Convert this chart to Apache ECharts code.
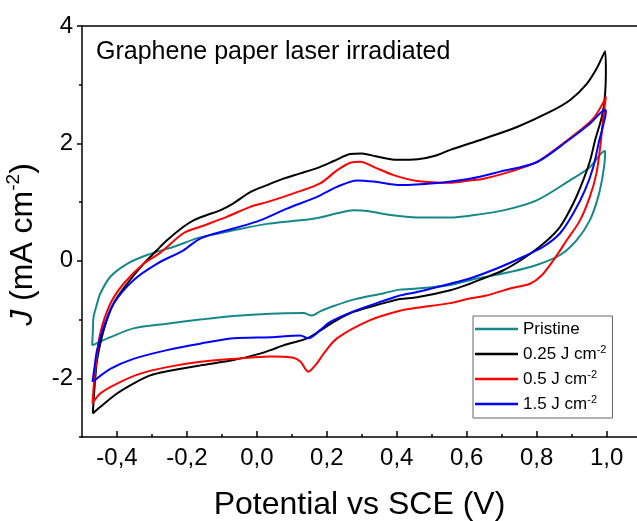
<!DOCTYPE html>
<html>
<head>
<meta charset="utf-8">
<script src="https://cdn.jsdelivr.net/npm/echarts@6/dist/echarts.min.js"></script>
<style>html,body{margin:0;padding:0;background:#fff}#c{width:637px;height:521px}</style>
</head>
<body>
<div id="c"></div>
<script>
// ---- data (potential V vs SCE, current density mA cm-2) ----
const seriesNames = ['Pristine', '0.25 J cm-2', '0.5 J cm-2', '1.5 J cm-2'];
const potentialTicks = [-0.4, -0.2, 0.0, 0.2, 0.4, 0.6, 0.8, 1.0];
const potentialMinorTicks = [-0.3, -0.1, 0.1, 0.3, 0.5, 0.7, 0.9];
const currentTicks = [-2, 0, 2, 4];
const currentMinorTicks = [-3, -1, 1, 3];

const pristine = [
  [-0.471,-1.44],[-0.469,-1.20],[-0.467,-0.96],[-0.458,-0.75],[-0.448,-0.56],[-0.419,-0.27],[-0.371,-0.05],
  [-0.314,0.10],[-0.238,0.24],[-0.162,0.40],[-0.067,0.52],[0.029,0.63],[0.124,0.69],[0.181,0.74],[0.229,0.81],
  [0.277,0.86],[0.315,0.85],[0.382,0.78],[0.458,0.74],[0.553,0.74],[0.609,0.77],[0.705,0.86],[0.80,1.03],
  [0.895,1.37],[0.953,1.60],[0.995,1.87],
  [0.996,1.85],[0.99,1.49],[0.976,1.09],[0.952,0.69],[0.914,0.35],[0.867,0.10],[0.80,-0.07],[0.724,-0.19],
  [0.657,-0.27],[0.609,-0.33],[0.553,-0.41],[0.458,-0.47],[0.409,-0.49],[0.363,-0.55],[0.276,-0.66],[0.21,-0.79],
  [0.181,-0.86],[0.157,-0.93],[0.133,-0.89],[0.039,-0.90],[-0.067,-0.94],[-0.162,-1.00],[-0.257,-1.07],
  [-0.353,-1.15],[-0.419,-1.30],[-0.457,-1.40],[-0.471,-1.44]
];
const fluence025 = [
  [-0.469,-2.60],[-0.466,-2.30],[-0.462,-2.00],[-0.457,-1.69],[-0.438,-1.18],[-0.41,-0.73],[-0.371,-0.39],
  [-0.324,-0.05],[-0.286,0.18],[-0.257,0.35],[-0.21,0.58],[-0.181,0.69],[-0.143,0.78],[-0.105,0.86],[-0.067,0.98],
  [-0.019,1.17],[0.029,1.29],[0.076,1.40],[0.124,1.49],[0.172,1.58],[0.22,1.70],[0.267,1.82],[0.30,1.83],
  [0.34,1.78],[0.40,1.72],[0.46,1.73],[0.51,1.79],[0.553,1.89],[0.649,2.08],[0.744,2.28],[0.839,2.54],
  [0.896,2.74],[0.944,3.02],[0.972,3.28],[0.996,3.57],
  [0.998,3.20],[0.99,2.55],[0.967,2.05],[0.953,1.71],[0.933,1.37],[0.905,0.98],[0.867,0.58],[0.819,0.29],
  [0.762,0.04],[0.705,-0.16],[0.647,-0.30],[0.609,-0.39],[0.553,-0.50],[0.458,-0.62],[0.409,-0.65],[0.363,-0.72],
  [0.276,-0.87],[0.22,-1.04],[0.181,-1.19],[0.143,-1.32],[0.076,-1.44],[0.039,-1.52],[0.009,-1.58],[-0.067,-1.69],
  [-0.162,-1.78],[-0.257,-1.88],[-0.305,-1.95],[-0.353,-2.09],[-0.40,-2.26],[-0.448,-2.49],[-0.469,-2.60]
];
const fluence05 = [
  [-0.47,-2.43],[-0.466,-2.10],[-0.461,-1.81],[-0.448,-1.24],[-0.419,-0.73],[-0.381,-0.39],[-0.324,-0.05],
  [-0.276,0.14],[-0.21,0.47],[-0.162,0.58],[-0.086,0.75],[-0.019,0.92],[0.029,1.00],[0.105,1.15],[0.181,1.32],
  [0.229,1.54],[0.267,1.67],[0.296,1.69],[0.334,1.60],[0.391,1.46],[0.458,1.36],[0.553,1.33],[0.609,1.37],
  [0.649,1.40],[0.725,1.52],[0.80,1.68],[0.858,1.92],[0.915,2.18],[0.963,2.43],[0.997,2.77],
  [0.998,2.80],[0.99,2.40],[0.982,1.95],[0.971,1.49],[0.952,1.09],[0.924,0.69],[0.886,0.35],[0.848,0.01],
  [0.814,-0.25],[0.781,-0.39],[0.724,-0.47],[0.657,-0.59],[0.609,-0.64],[0.553,-0.72],[0.458,-0.80],[0.409,-0.85],
  [0.324,-1.01],[0.229,-1.32],[0.191,-1.58],[0.171,-1.75],[0.147,-1.89],[0.125,-1.72],[0.105,-1.65],[0.039,-1.63],
  [-0.067,-1.67],[-0.162,-1.72],[-0.257,-1.81],[-0.333,-1.92],[-0.40,-2.09],[-0.448,-2.26],[-0.47,-2.43]
];
const fluence15 = [
  [-0.47,-2.06],[-0.464,-1.80],[-0.457,-1.52],[-0.438,-1.13],[-0.41,-0.73],[-0.353,-0.33],[-0.286,-0.05],
  [-0.21,0.18],[-0.162,0.38],[-0.067,0.55],[0.009,0.69],[0.086,0.89],[0.172,1.09],[0.229,1.26],[0.287,1.37],
  [0.334,1.35],[0.41,1.29],[0.506,1.32],[0.609,1.40],[0.696,1.52],[0.80,1.68],[0.89,2.05],[0.953,2.34],[0.997,2.57],
  [0.998,2.55],[0.99,2.30],[0.979,2.05],[0.962,1.60],[0.938,1.20],[0.905,0.81],[0.867,0.47],[0.819,0.24],
  [0.762,0.07],[0.686,-0.13],[0.609,-0.30],[0.553,-0.39],[0.458,-0.53],[0.409,-0.59],[0.363,-0.68],[0.276,-0.86],
  [0.21,-1.04],[0.181,-1.18],[0.147,-1.32],[0.124,-1.27],[0.039,-1.30],[-0.067,-1.32],[-0.162,-1.41],
  [-0.257,-1.52],[-0.353,-1.67],[-0.419,-1.84],[-0.467,-2.05]
];
const seriesData = [pristine, fluence025, fluence05, fluence15];
const seriesColors = ['#17888a', '#000000', '#ff0000', '#0000ff'];

const FONT = 'Liberation Sans, Arial, sans-serif';
const chart = echarts.init(document.getElementById('c'), null, {renderer: 'canvas'});
const xMin = -0.5, xMax = 1.087, yMin = -3, yMax = 4;
const axisLine = {show: true, onZero: false, lineStyle: {color: '#000', width: 1.5}};
const noLine = {show: false, onZero: false};
const tickStyle = {color: '#000', width: 1.5};

function tickAxisX(values, len) {
  return {
    type: 'value', position: 'bottom', min: xMin, max: xMax,
    axisLine: noLine,
    axisTick: {show: true, inside: true, length: len, customValues: values, lineStyle: tickStyle},
    axisLabel: {show: false}, splitLine: {show: false}
  };
}
function tickAxisY(values, len) {
  return {
    type: 'value', position: 'left', min: yMin, max: yMax,
    axisLine: noLine,
    axisTick: {show: true, inside: false, length: len, customValues: values, lineStyle: tickStyle},
    axisLabel: {show: false}, splitLine: {show: false}
  };
}

chart.setOption({
  animation: false,
  backgroundColor: '#fff',
  textStyle: {fontFamily: FONT},
  title: {
    text: 'Graphene paper laser irradiated',
    left: 96, top: 40, padding: 0,
    textStyle: {fontSize: 25, fontWeight: 'normal', color: '#000', fontFamily: FONT}
  },
  grid: {left: 82, right: 0, top: 26, bottom: 84, containLabel: false, outerBoundsMode: 'none'},
  legend: {
    orient: 'vertical', left: 473, top: 316,
    data: seriesNames,
    icon: 'rect', itemWidth: 43, itemHeight: 2.5, itemGap: 5,
    padding: [3, 6, 4, 2],
    borderColor: '#666', borderWidth: 1, backgroundColor: '#fff',
    formatter: n => n.replace('-2', '{s|-2}'),
    textStyle: {
      fontSize: 17, color: '#000', lineHeight: 20, fontFamily: FONT,
      rich: {s: {fontSize: 11, lineHeight: 12, verticalAlign: 'top', color: '#000', fontFamily: FONT}}
    }
  },
  xAxis: [
    {
      type: 'value', position: 'bottom', min: xMin, max: xMax,
      axisLine: axisLine,
      axisTick: {show: false},
      axisLabel: {show: true, customValues: potentialTicks, margin: 9, fontSize: 24, color: '#000', fontFamily: FONT,
        formatter: v => v.toFixed(1).replace('.', ',')},
      splitLine: {show: false},
      name: 'Potential vs SCE (V)', nameLocation: 'middle', nameGap: 52,
      nameTextStyle: {fontSize: 32, color: '#000', fontFamily: FONT}
    },
    tickAxisX(potentialTicks, 6),
    tickAxisX(potentialMinorTicks, 3),
    {
      type: 'value', position: 'top', min: xMin, max: xMax,
      axisLine: axisLine, axisTick: {show: false}, axisLabel: {show: false}, splitLine: {show: false}
    }
  ],
  yAxis: [
    {
      type: 'value', position: 'left', min: yMin, max: yMax,
      axisLine: axisLine,
      axisTick: {show: false},
      axisLabel: {show: true, customValues: currentTicks, margin: 9, fontSize: 24, color: '#000', fontFamily: FONT},
      splitLine: {show: false},
      name: '{i|J} (mA cm{s|-2})', nameLocation: 'middle', nameGap: 32, nameRotate: 90,
      nameTextStyle: {
        fontSize: 32, color: '#000', fontFamily: FONT, lineHeight: 36, padding: [0, 26, 0, 0],
        rich: {
          i: {fontSize: 32, fontStyle: 'italic', color: '#000', fontFamily: FONT, lineHeight: 36},
          s: {fontSize: 19, lineHeight: 19, verticalAlign: 'top', color: '#000', fontFamily: FONT}
        }
      }
    },
    tickAxisY(currentTicks, 5),
    tickAxisY(currentMinorTicks, 3)
  ],
  series: seriesNames.map((name, i) => ({
    name: name,
    type: 'line',
    xAxisIndex: 0, yAxisIndex: 0,
    data: seriesData[i],
    showSymbol: false, symbol: 'none',
    smooth: 0.3,
    color: seriesColors[i],
    lineStyle: {color: seriesColors[i], width: 2},
    z: 2 + i
  }))
});
</script>
</body>
</html>
